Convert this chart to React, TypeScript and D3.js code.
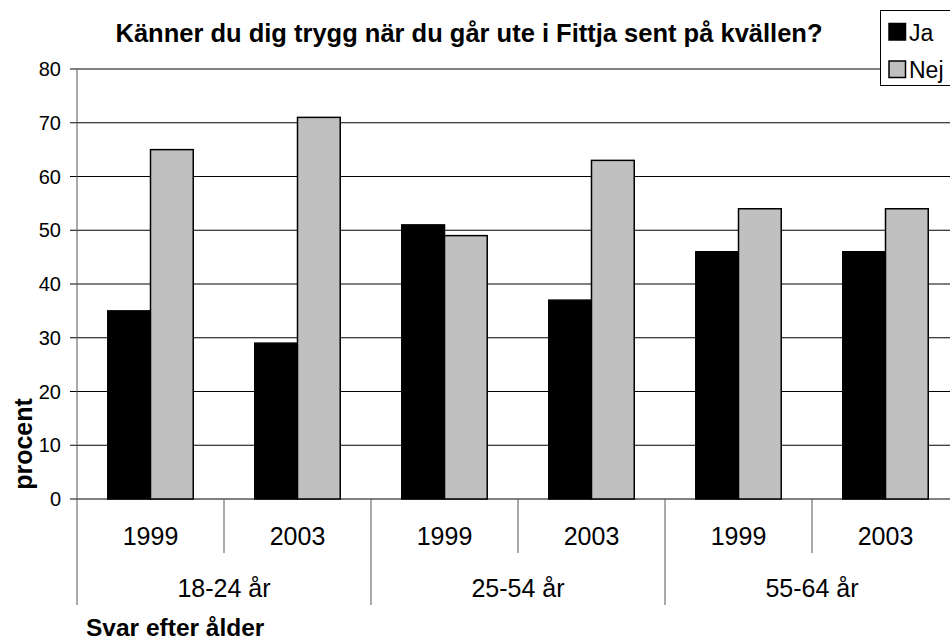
import React from "react";
import * as d3 from "d3";

const years = ["1999", "2003", "1999", "2003", "1999", "2003"];
const groups = ["18-24 år", "25-54 år", "55-64 år"];
const ja = [35, 29, 51, 37, 46, 46];
const nej = [65, 71, 49, 63, 54, 54];
const yTicks = [0, 10, 20, 30, 40, 50, 60, 70, 80];
const seriesNames = ["Ja", "Nej"];
const seriesColors = ["#000000", "#C0C0C0"];

const W = 950;
const H = 639;
const left = 77;
const right = 959;
const top = 69;
const bottom = 499;
const font = "'Liberation Sans', Arial, sans-serif";

export default function App() {
  const x = d3.scaleBand<number>().domain(d3.range(years.length)).range([left, right]);
  const y = d3.scaleLinear().domain([0, 80]).range([bottom, top]);
  const inner = d3.scaleBand<number>().domain([0, 1]).range([0, x.bandwidth()]).paddingInner(0).paddingOuter(0.72);
  const series = [ja, nej];
  const groupW = x.bandwidth() * 2;

  return (
    <svg width={W} height={H} style={{ position: "absolute", left: 0, top: 0, background: "#fff" }} fontFamily={font}>
      <rect x={0} y={0} width={W} height={H} fill="#fff" />
      <text x={469} y={41.5} textAnchor="middle" fontSize={25.5} fontWeight="bold">
        Känner du dig trygg när du går ute i Fittja sent på kvällen?
      </text>
      {yTicks.map((t) => (
        <g key={t}>
          <line x1={left} x2={W} y1={y(t)} y2={y(t)} stroke="#000" strokeWidth={1} />
          <line x1={left - 7} x2={left} y1={y(t)} y2={y(t)} stroke="#000" strokeWidth={1} />
          <text x={left - 16} y={y(t) + 7} textAnchor="end" fontSize={20}>{t}</text>
        </g>
      ))}
      <line x1={left} x2={left} y1={top} y2={605} stroke="#555" strokeWidth={1} />
      {series.map((s, si) =>
        s.map((v, i) => (
          <rect
            key={`${si}-${i}`}
            x={(x(i) as number) + (inner(si) as number)}
            y={y(v)}
            width={inner.bandwidth()}
            height={y(0) - y(v)}
            fill={seriesColors[si]}
            stroke="#000"
            strokeWidth={1.5}
          />
        ))
      )}
      {years.map((yr, i) => (
        <g key={i}>
          {i % 2 === 1 && (
            <line x1={x(i) as number} x2={x(i) as number} y1={bottom} y2={553} stroke="#555" strokeWidth={1} />
          )}
          <text x={(x(i) as number) + x.bandwidth() / 2} y={545} textAnchor="middle" fontSize={25}>{yr}</text>
        </g>
      ))}
      {groups.map((g, gi) => (
        <g key={g}>
          {gi > 0 && (
            <line x1={x(gi * 2) as number} x2={x(gi * 2) as number} y1={bottom} y2={605} stroke="#555" strokeWidth={1} />
          )}
          <text x={(x(gi * 2) as number) + groupW / 2} y={597} textAnchor="middle" fontSize={25}>{g}</text>
        </g>
      ))}
      <text x={86} y={636} fontSize={24.5} fontWeight="bold">Svar efter ålder</text>
      <text transform={`translate(31.5,444) rotate(-90)`} textAnchor="middle" fontSize={25} fontWeight="bold">procent</text>
      <g>
        <rect x={880.5} y={10.5} width={80} height={75} fill="#fff" stroke="#000" strokeWidth={1} />
        {seriesNames.map((n, i) => (
          <g key={n}>
            <rect x={889} y={23.5 + i * 37.5} width={16.5} height={16.5} fill={seriesColors[i]} stroke="#000" strokeWidth={1.5} />
            <text x={909} y={40.5 + i * 37} fontSize={23}>{n}</text>
          </g>
        ))}
      </g>
    </svg>
  );
}
